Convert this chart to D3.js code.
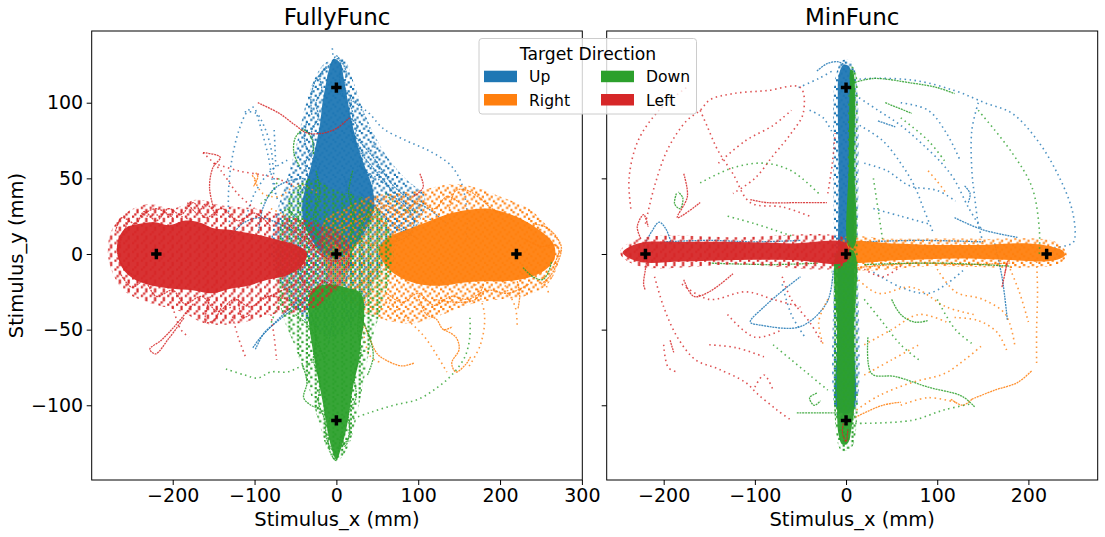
<!DOCTYPE html>
<html>
<head>
<meta charset="utf-8">
<script src="https://cdn.jsdelivr.net/npm/d3@7"></script>
<style>
  body { margin: 0; background: #fff; }
  text { font-family: "DejaVu Sans", sans-serif; }
</style>
</head>
<body>
<div id="chart"></div>
<script>
// Tick labels and categories
const xTicksFully = [-200, -100, 0, 100, 200, 300];
const xTicksMin = [-200, -100, 0, 100, 200];
const yTicks = [-100, -50, 0, 50, 100];
const directions = ["Up", "Right", "Down", "Left"];
const targets = [[0, 0], [0, 110], [0, -110], [220, 0], [-220, 0]];

// ---- FullyFunc (mm) : dense cloud outlines, dense tracks, sparse dotted tracks
const fullyUpHalo = [[-14,126],[8,129],[22,112],[32,96],[45,80],[65,62],[88,48],[108,38],[100,20],[75,8],[50,-15],[28,-40],[0,-55],[-30,-48],[-60,-28],[-80,0],[-74,25],[-60,50],[-48,74],[-38,98],[-28,114]];
const fullyUpCore = [[-3,129],[5,126],[9,116],[13,104],[17,92],[22,80],[28,68],[36,56],[44,44],[46,30],[38,18],[24,6],[6,-2],[-10,-2],[-26,6],[-38,18],[-42,30],[-38,44],[-31,58],[-25,72],[-20,86],[-17,100],[-13,112],[-9,122]];
const fullyUpTracks = [
  [[-30,92],[-31,104],[-26,114],[-16,121],[-6,126],[0,131],[5,127],[4,114],[9,104]],
  [[-12,124],[-20,118],[-18,108],[-25,100],[-22,90],[-30,82],[-28,70],[-38,60],[-35,50],[-45,40]],
  [[6,128],[12,120],[10,110],[18,102],[15,92],[25,85],[22,75],[32,68],[30,58],[45,50],[42,40],[55,35]],
  [[-36,88],[-39,76],[-33,66],[-24,60]],
  [[14,102],[20,93],[18,82],[26,70],[40,60],[56,50],[70,40]],
  [[22,78],[45,64],[68,46],[90,36],[112,30],[135,20]],
  [[-102,-62],[-94,-56],[-80,-48],[-65,-40],[-50,-33],[-35,-28]],
  [[-99,-63],[-88,-52],[-73,-45],[-57,-38],[-40,-32]],
  [[-130,10],[-115,20],[-92,24],[-70,20],[-50,14]],
  [[-40,50],[-60,48],[-78,42],[-90,30],[-95,15]],
  [[30,40],[50,30],[75,18],[100,10]],
  [[10,50],[20,30],[30,10],[35,-10]],
  [[-20,60],[-30,40],[-40,20],[-45,-5],[-40,-20]],
  [[60,40],[80,34],[95,22],[88,12],[70,8]],
  [[-10,20],[-5,0],[-12,-20],[-5,-40],[-10,-60]],
  [[12,22],[18,0],[10,-25],[16,-45]]
];
const fullyUpDots = [
  [[-128,8],[-132,32],[-129,58],[-119,82],[-109,94],[-101,97],[-96,90],[-90,79],[-83,64],[-78,48],[-72,36]],
  [[-112,94],[-98,93],[-88,84],[-80,70],[-77,55],[-75,40]],
  [[-76,82],[-75,70],[-74,57]],
  [[4,106],[20,101],[40,93],[57,83],[85,75],[114,68],[139,59],[152,48],[158,35],[160,22],[158,8]],
  [[20,104],[35,91],[45,76],[50,60],[56,45]],
  [[-5,136],[-4,130]],
  [[25,58],[50,50],[80,36],[105,26],[125,20]],
  [[-60,62],[-80,55],[-100,40],[-110,25]]
];

const fullyRightHalo = [[-15,22],[10,30],[40,38],[70,40],[100,42],[140,46],[170,44],[200,38],[235,30],[258,18],[274,6],[270,-8],[258,-20],[230,-28],[200,-30],[165,-33],[130,-40],[90,-46],[50,-42],[15,-32],[-12,-12]];
const fullyRightCore = [[52,3],[64,11],[86,16],[110,21],[134,26],[160,29],[184,30],[208,27],[230,22],[250,15],[266,6],[266,-4],[254,-11],[232,-16],[206,-18],[180,-18],[154,-19],[128,-21],[102,-20],[80,-16],[62,-9]];
const fullyRightTracks = [
  [[138,30],[146,42],[160,42],[175,37],[190,30],[205,26]],
  [[40,25],[60,32],[80,26],[100,35],[120,30],[135,38],[150,34]],
  [[240,20],[255,18],[268,12],[275,4],[270,-6],[262,-14],[250,-20]],
  [[60,-25],[80,-32],[100,-26],[120,-34],[140,-28],[160,-30],[185,-24],[210,-26],[235,-20]],
  [[100,-28],[110,-40],[122,-43],[131,-50],[142,-48]],
  [[221,-18],[224,-27],[222,-36]],
  [[28,-38],[40,-55],[50,-66],[60,-70],[80,-74],[95,-72]],
  [[131,-50],[146,-55],[150,-63],[141,-72],[146,-78],[158,-73],[164,-68]],
  [[-103,52],[-98,48],[-101,45],[-96,51],[-99,54]],
  [[60,20],[40,25],[20,20],[0,15]],
  [[50,-10],[30,-20],[10,-25],[-10,-20]],
  [[230,10],[250,5],[268,6],[272,2],[265,-8]],
  [[180,-20],[170,-30],[150,-32],[120,-30]],
  [[50,5],[30,8],[10,2],[-5,6]]
];
const fullyRightDots = [
  [[60,-30],[88,-44],[108,-55],[124,-68],[135,-78]],
  [[200,-15],[210,-25],[219,-36],[221,-49]],
  [[-100,49],[-90,40],[-70,38],[-46,46],[-22,40]],
  [[250,-12],[256,-20],[260,-27]],
  [[40,-12],[32,-45],[42,-68],[56,-72]],
  [[170,-20],[181,-40],[176,-60],[160,-76]],
  [[-80,30],[-60,25],[-40,20]]
];

const fullyDownHalo = [[-55,40],[-30,50],[0,42],[30,38],[58,25],[70,0],[58,-30],[42,-60],[32,-88],[22,-114],[12,-130],[0,-137],[-10,-130],[-22,-110],[-35,-86],[-50,-62],[-66,-40],[-74,-10],[-68,20]];
const fullyDownCore = [[-30,-24],[-10,-20],[10,-22],[30,-26],[34,-42],[30,-58],[27,-72],[21,-86],[17,-100],[12,-116],[6,-128],[0,-136],[-6,-128],[-11,-116],[-16,-100],[-21,-86],[-26,-72],[-31,-56],[-34,-40]];
const fullyDownTracks = [
  [[-8,-108],[-10,-124],[-6,-133],[0,-136],[3,-129],[6,-119],[10,-127],[14,-124],[16,-110]],
  [[-30,-40],[-25,-55],[-28,-70],[-20,-85],[-22,-98],[-14,-110],[-12,-122],[-5,-130]],
  [[30,-30],[26,-50],[30,-65],[22,-80],[24,-95],[15,-105],[16,-120],[6,-128]],
  [[-45,58],[-52,67],[-50,77],[-40,82],[-30,76],[-28,66]],
  [[-42,-72],[-36,-85],[-40,-95],[-31,-100],[-22,-102],[-12,-106]],
  [[30,-42],[40,-54],[45,-68],[38,-80]],
  [[228,-9],[240,-15],[252,-17],[259,-12],[263,-5]],
  [[-60,30],[-40,20],[-20,10],[0,-5]],
  [[40,30],[25,10],[10,-10]],
  [[-50,-40],[-30,-50],[-15,-70]],
  [[-25,55],[-20,40],[-28,25],[-22,10]],
  [[20,55],[15,40],[22,25],[16,10]]
];
const fullyDownDots = [
  [[-135,-76],[-112,-80],[-96,-82],[-80,-78],[-60,-78],[-42,-74],[-22,-70]],
  [[15,-110],[40,-105],[70,-100],[100,-96],[124,-88],[141,-80],[157,-68],[163,-55],[163,-40]],
  [[-60,-20],[-70,-32],[-80,-46]],
  [[60,40],[80,30],[100,28]],
  [[-70,50],[-80,40],[-95,32]]
];

const fullyLeftHalo = [[-276,14],[-260,26],[-230,33],[-200,30],[-170,36],[-140,32],[-100,30],[-60,25],[-20,20],[12,10],[15,-10],[-10,-30],[-40,-38],[-80,-40],[-120,-46],[-160,-46],[-190,-38],[-230,-32],[-260,-24],[-278,-5]];
const fullyLeftCore = [[-268,6],[-258,17],[-240,20],[-222,21],[-205,19],[-186,22],[-168,21],[-150,17],[-130,16],[-110,14],[-90,12],[-70,9],[-50,6],[-36,1],[-42,-8],[-60,-14],[-84,-17],[-108,-21],[-130,-23],[-152,-26],[-176,-24],[-200,-23],[-224,-21],[-246,-17],[-262,-9]];
const fullyLeftTracks = [
  [[-254,22],[-263,10],[-267,0],[-258,-10],[-248,-14]],
  [[-270,15],[-262,24],[-245,20],[-235,28],[-220,22],[-205,30],[-190,26],[-175,34],[-160,24],[-140,30],[-120,22],[-100,27],[-80,18]],
  [[-265,-12],[-250,-22],[-235,-18],[-220,-28],[-200,-24],[-185,-33],[-165,-28],[-145,-38],[-125,-30],[-105,-35],[-85,-28],[-60,-30]],
  [[-96,100],[-70,93],[-50,85],[-36,80],[-15,80],[0,83],[16,90]],
  [[-163,67],[-142,64],[-151,57],[-155,44],[-150,30]],
  [[-175,-33],[-198,-48],[-214,-57],[-228,-63],[-221,-66],[-205,-56],[-186,-42]],
  [[-154,-28],[-160,-45],[-150,-44],[-140,-34]],
  [[102,53],[106,44],[94,38]],
  [[-182,34],[-170,27],[-160,33],[-145,25]],
  [[-120,-28],[-115,-42],[-105,-40]],
  [[-240,25],[-220,30],[-200,24]],
  [[-60,20],[-40,10],[-20,0],[0,-5],[10,-2]],
  [[-90,-30],[-70,-25],[-50,-20]],
  [[-40,15],[-25,5],[-10,12],[5,4]],
  [[-45,-15],[-30,-25],[-15,-18],[0,-24]]
];
const fullyLeftDots = [
  [[-163,67],[-141,55],[-121,40],[-100,30]],
  [[-232,25],[-200,26],[-175,22]],
  [[-130,-35],[-120,-55],[-111,-68]],
  [[-80,-40],[-76,-55],[-73,-70]],
  [[-150,60],[-120,55],[-80,51],[-50,45]],
  [[-200,-35],[-190,-50],[-180,-55]]
];

// ---- MinFunc (mm)
const minUpHalo = [[-13,-100],[-13,0],[-14,60],[-12,115],[-4,128],[6,127],[12,110],[13,0],[12,-100],[4,-110],[-6,-110]];
const minUpCore = [[-8,-104],[-9,-50],[-9,0],[-8,50],[-9,100],[-8,118],[-3,125],[3,124],[8,114],[9,60],[9,0],[8,-50],[7,-104]];
const minUpTracks = [
  [[-32,121],[-20,126],[-8,127],[0,124]],
  [[-14,-11],[-21,-32],[-50,-48],[-94,-47],[-105,-45],[-90,-35],[-69,-24],[-50,-15]],
  [[-222,5],[-213,15],[-205,21],[-198,17],[-191,6]],
  [[35,88],[54,84]],
  [[119,24],[150,16],[188,11]],
  [[163,7],[171,-15],[174,-28],[177,-44]],
  [[130,45],[136,40],[134,34]],
  [[-200,8],[-150,9],[-100,8],[-50,9]],
  [[20,8],[80,9],[150,8]]
];
const minUpDots = [
  [[5,113],[10,115],[72,115],[119,108],[152,100],[182,93],[210,75],[232,53],[248,29],[251,11],[248,7],[225,4]],
  [[145,100],[138,82],[138,55],[141,38],[145,20],[150,8]],
  [[10,105],[35,95],[60,85],[83,73],[105,60],[119,49],[134,31],[150,15]],
  [[15,85],[40,75],[60,60],[75,45],[85,30],[95,15]],
  [[20,60],[45,55],[70,45],[100,42],[120,35]],
  [[-52,110],[-30,116],[-15,121]],
  [[-40,95],[-25,90],[-15,80]],
  [[30,-12],[60,-22],[90,-26],[110,-20],[130,-10]],
  [[-70,-20],[-60,-40],[-45,-55]],
  [[60,100],[90,95],[110,80],[125,62]],
  [[30,30],[60,25],[90,20]]
];

const minRightHalo = [[-5,-8],[100,-8],[200,-9],[235,-6],[242,0],[230,8],[150,10],[50,10],[-5,10]];
const minRightCore = [[0,-4],[60,-4],[120,-3],[180,-4],[212,-5],[230,-4],[240,-1],[238,2],[225,5],[200,7],[150,6],[100,6],[50,7],[0,7]];
const minRightTracks = [
  [[0,-10],[30,-8],[80,-6],[130,-7],[180,-6]],
  [[138,-96],[163,-90],[188,-85],[204,-77]],
  [[10,-108],[40,-100],[60,-98]],
  [[115,-96],[128,-100],[138,-96]]
];
const minRightDots = [
  [[7,-105],[35,-94],[72,-85],[108,-79],[130,-70],[150,-60]],
  [[209,-5],[210,-25],[209,-50],[209,-72]],
  [[119,-42],[145,-44],[166,-52],[177,-65]],
  [[10,-15],[35,-26],[72,-22],[110,-35],[140,-40]],
  [[20,-60],[50,-50],[80,-40],[110,-45]],
  [[60,-100],[90,-95],[120,-98]],
  [[90,55],[100,48],[110,40]],
  [[180,-10],[190,-25],[200,-45]],
  [[100,-10],[120,-25],[150,-30],[175,-40],[185,-60]],
  [[-20,-30],[-30,-45],[-25,-60]],
  [[20,-80],[50,-70],[80,-60]]
];

const minDownHalo = [[2,0],[2,60],[3,110],[5,124],[10,122],[12,60],[13,-50],[12,-110],[6,-128],[-5,-130],[-12,-110],[-13,-50],[-12,0]];
const minDownCore = [[-9,2],[-10,-50],[-10,-100],[-8,-120],[-4,-126],[2,-125],[6,-115],[9,-100],[9,-50],[8,2]];
const minDownCoreTop = [[3,5],[3,60],[4,110],[5,122],[8,120],[9,60],[9,5]];
const minDownTracks = [
  [[24,-55],[28,-79],[54,-81],[90,-88],[127,-94],[141,-101]],
  [[7,113],[30,116],[72,113],[100,110],[119,106]],
  [[43,100],[72,93]],
  [[-186,40],[-188,33],[-182,30],[-179,37],[-184,41]],
  [[-32,-92],[-40,-95],[-35,-100],[-28,-97]],
  [[-54,-105],[-30,-105],[-7,-105]],
  [[50,-30],[60,-40],[75,-45],[90,-44]],
  [[-150,-6],[-80,-7],[-30,-6]],
  [[20,-7],[100,-6],[180,-8]]
];
const minDownDots = [
  [[10,-112],[72,-110],[108,-103],[138,-99]],
  [[145,95],[182,67],[204,44],[212,16],[212,0]],
  [[-160,47],[-124,57],[-90,60],[-60,55],[-30,40]],
  [[20,-30],[40,-45],[60,-60],[80,-70]],
  [[-80,-60],[-60,-70],[-40,-80],[-20,-90]],
  [[30,50],[35,30],[40,10]],
  [[-60,12],[-100,20],[-130,25]],
  [[100,-30],[120,-50],[140,-60]],
  [[60,90],[90,75],[110,60]]
];

const minLeftHalo = [[-248,1],[-228,-8],[-120,-7],[0,-8],[5,0],[0,10],[-120,11],[-228,10]];
const minLeftCore = [[-245,1],[-228,-5],[-180,-5],[-120,-4],[-60,-4],[0,-5],[0,7],[-60,7],[-120,8],[-180,8],[-228,7]];
const minLeftTracks = [
  [[-218,-2],[-220,-10],[-222,-20],[-220,-24]],
  [[-225,10],[-229,18],[-222,26],[-217,18]],
  [[-178,53],[-174,38],[-185,24],[-160,34]],
  [[-105,36],[-87,34],[-50,34],[-21,34]],
  [[-178,-17],[-167,-28],[-150,-25],[-124,-13]],
  [[-193,-57],[-189,-65]],
  [[174,-13],[177,-5],[171,-22]],
  [[-3,-112],[-4,-118],[0,-124],[2,-116]]
];
const minLeftDots = [
  [[-220,20],[-210,45],[-195,70],[-175,88],[-160,95],[-149,102],[-124,106],[-87,108],[-50,110],[-47,93],[-60,80],[-80,65],[-100,50],[-124,40]],
  [[-160,95],[-152,84],[-141,69],[-124,53],[-105,34],[-69,31],[-40,25]],
  [[-236,30],[-238,50],[-228,75],[-205,95],[-175,110]],
  [[-210,-15],[-200,-35],[-185,-55],[-165,-70],[-140,-76],[-110,-85],[-98,-92],[-76,-103],[-60,-110]],
  [[-180,-20],[-150,-30],[-110,-25],[-80,-30],[-50,-35]],
  [[-150,-60],[-120,-62],[-90,-68]],
  [[-70,-15],[-60,-30],[-40,-45],[-25,-60]],
  [[-100,-88],[-90,-80],[-80,-90]],
  [[-200,-60],[-195,-75],[-185,-78]],
  [[-20,40],[-15,60],[-12,80]],
  [[20,-10],[40,-15],[60,-8]],
  [[-140,60],[-110,75],[-80,85],[-60,95]],
  [[-130,-40],[-100,-55],[-70,-50]]
];

// ---- setup
const width = 1105, height = 537;
const plotTop = 31, plotBottom = 480;
const colors = { Up: "#1f77b4", Right: "#ff7f0e", Down: "#2ca02c", Left: "#d62728" };

const panels = [
  { title: "FullyFunc", left: 91.7, right: 582.3, xDomain: [-299, 300.5], xTicks: xTicksFully, yLabels: true,
    layers: {
      Up:    { halo: [fullyUpHalo],    core: [fullyUpCore],    tracks: fullyUpTracks,    dots: fullyUpDots },
      Right: { halo: [fullyRightHalo], core: [fullyRightCore], tracks: fullyRightTracks, dots: fullyRightDots },
      Down:  { halo: [fullyDownHalo],  core: [fullyDownCore],  tracks: fullyDownTracks,  dots: fullyDownDots },
      Left:  { halo: [fullyLeftHalo],  core: [fullyLeftCore],  tracks: fullyLeftTracks,  dots: fullyLeftDots }
    } },
  { title: "MinFunc", left: 606.7, right: 1097.7, xDomain: [-262.5, 276], xTicks: xTicksMin, yLabels: false,
    layers: {
      Up:    { halo: [minUpHalo],    core: [minUpCore],    tracks: minUpTracks,    dots: minUpDots },
      Right: { halo: [minRightHalo], core: [minRightCore], tracks: minRightTracks, dots: minRightDots },
      Down:  { halo: [minDownHalo],  core: [minDownCore, minDownCoreTop], tracks: minDownTracks, dots: minDownDots },
      Left:  { halo: [minLeftHalo],  core: [minLeftCore],  tracks: minLeftTracks,  dots: minLeftDots }
    } }
];

const svg = d3.select("#chart").append("svg")
  .attr("width", width)
  .attr("height", height);

const y = d3.scaleLinear().domain([-149.4, 147.4]).range([plotBottom, plotTop]);

// speckle textures: each direction owns a disjoint set of cells in a tile,
// so where clouds overlap the colours interleave like mixed scatter points
const defs = svg.append("defs");
const cellGrid = [
  ["Up", "Right", "Left", "Down"],
  ["Down", "Left", "Up", "Right"],
  ["Left", "Up", "Right", "Down"],
  ["Right", "Down", "Left", "Up"]
];
const cell = 2.2;
directions.forEach(d => {
  const p = defs.append("pattern")
    .attr("id", "speck-" + d)
    .attr("patternUnits", "userSpaceOnUse")
    .attr("width", cell * 4).attr("height", cell * 4);
  cellGrid.forEach((row, r) => row.forEach((name, c) => {
    if (name === d) p.append("rect")
      .attr("x", c * cell).attr("y", r * cell)
      .attr("width", cell).attr("height", cell)
      .attr("fill", colors[d]);
  }));
});

panels.forEach((p, i) => {
  const x = d3.scaleLinear().domain(p.xDomain).range([p.left, p.right]);
  const line = d3.line().x(d => x(d[0])).y(d => y(d[1])).curve(d3.curveCatmullRom.alpha(0.5));
  const poly = d3.line().x(d => x(d[0])).y(d => y(d[1])).curve(d3.curveCatmullRomClosed.alpha(0.5));

  defs.append("clipPath").attr("id", "clip" + i)
    .append("rect")
    .attr("x", p.left).attr("y", plotTop)
    .attr("width", p.right - p.left).attr("height", plotBottom - plotTop);

  const plot = svg.append("g").attr("clip-path", `url(#clip${i})`);

  directions.forEach(dir => {
    const L = p.layers[dir];
    const g = plot.append("g");
    g.selectAll("path.halo").data(L.halo).join("path")
      .attr("class", "halo")
      .attr("d", poly)
      .attr("fill", `url(#speck-${dir})`);
    g.selectAll("path.core").data(L.core).join("path")
      .attr("class", "core")
      .attr("d", poly)
      .attr("fill", colors[dir])
      .attr("fill-opacity", 0.95);
    g.selectAll("path.track").data(L.tracks).join("path")
      .attr("class", "track")
      .attr("d", line)
      .attr("fill", "none")
      .attr("stroke", colors[dir])
      .attr("stroke-width", 1.3)
      .attr("stroke-dasharray", "2 0.8")
      .attr("stroke-opacity", 0.85);
    g.selectAll("path.dots").data(L.dots).join("path")
      .attr("class", "dots")
      .attr("d", line)
      .attr("fill", "none")
      .attr("stroke", colors[dir])
      .attr("stroke-width", 1.6)
      .attr("stroke-dasharray", "1.5 3.5")
      .attr("stroke-opacity", 0.8);
  });

  // target markers
  plot.selectAll("path.target").data(targets).join("path")
    .attr("class", "target")
    .attr("transform", d => `translate(${x(d[0])},${y(d[1])})`)
    .attr("d", d3.symbol(d3.symbolCross, 60))
    .attr("fill", "#000");

  // frame
  svg.append("rect")
    .attr("x", p.left).attr("y", plotTop)
    .attr("width", p.right - p.left).attr("height", plotBottom - plotTop)
    .attr("fill", "none").attr("stroke", "#000").attr("stroke-width", 1);

  // axes
  const gx = svg.append("g")
    .attr("transform", `translate(0,${plotBottom})`)
    .call(d3.axisBottom(x).tickValues(p.xTicks).tickSize(5).tickPadding(3.5))
    .attr("font-size", 19).attr("font-family", "DejaVu Sans").attr("color", "#000");
  gx.select(".domain").remove();

  const gy = svg.append("g")
    .attr("transform", `translate(${p.left},0)`)
    .call(d3.axisLeft(y).tickValues(yTicks).tickSize(5).tickPadding(3.5)
      .tickFormat(p.yLabels ? d3.format("d") : () => ""))
    .attr("font-size", 19).attr("font-family", "DejaVu Sans").attr("color", "#000");
  gy.select(".domain").remove();

  const cx = (p.left + p.right) / 2;
  svg.append("text")
    .attr("x", cx).attr("y", 25)
    .attr("text-anchor", "middle")
    .attr("font-size", 23)
    .text(p.title);

  svg.append("text")
    .attr("x", cx).attr("y", 526)
    .attr("text-anchor", "middle")
    .attr("font-size", 19.5)
    .text("Stimulus_x (mm)");

  if (p.yLabels) {
    svg.append("text")
      .attr("transform", `translate(22.5,${(plotTop + plotBottom) / 2}) rotate(-90)`)
      .attr("text-anchor", "middle")
      .attr("font-size", 19.5)
      .text("Stimulus_y (mm)");
  }
});

// legend
const legend = svg.append("g");
legend.append("rect")
  .attr("x", 479).attr("y", 38.5)
  .attr("width", 217.5).attr("height", 75.5)
  .attr("rx", 3)
  .attr("fill", "#fff").attr("fill-opacity", 0.8)
  .attr("stroke", "#ccc").attr("stroke-width", 1);
legend.append("text")
  .attr("x", 588).attr("y", 59.5)
  .attr("text-anchor", "middle")
  .attr("font-size", 17.2)
  .text("Target Direction");
directions.forEach((d, k) => {
  const col = k < 2 ? 0 : 1, row = k % 2;
  const lx = col === 0 ? 484 : 601;
  const ly = 70.7 + row * 23.3;
  legend.append("rect")
    .attr("x", lx).attr("y", ly)
    .attr("width", 33).attr("height", 11.5)
    .attr("fill", colors[d]);
  legend.append("text")
    .attr("x", lx + 45).attr("y", ly + 11.7)
    .attr("font-size", 15.6)
    .text(d);
});
</script>
</body>
</html>
